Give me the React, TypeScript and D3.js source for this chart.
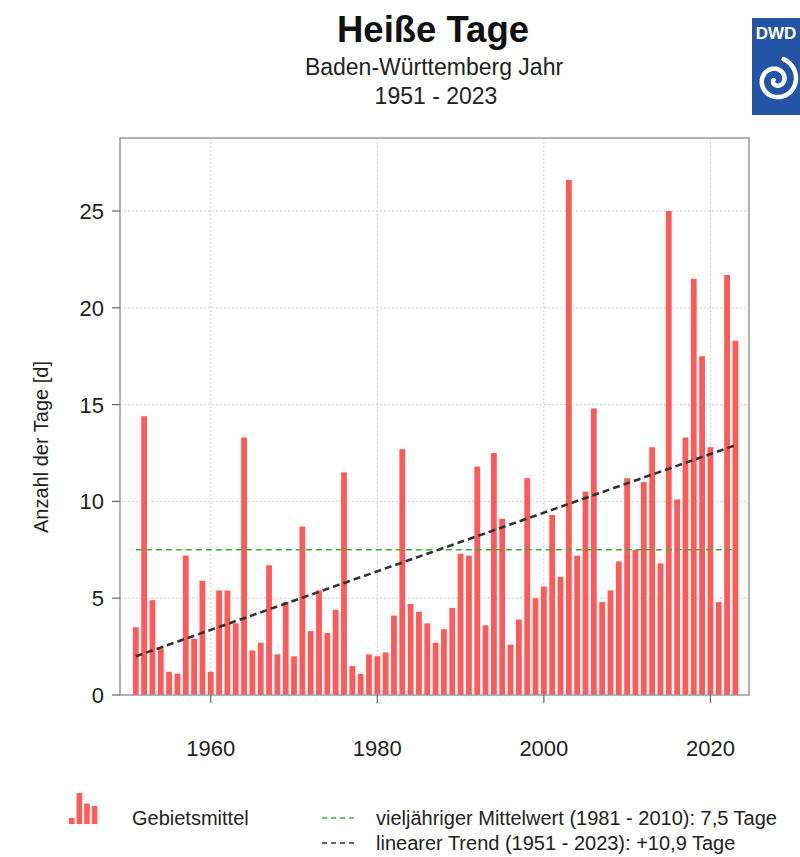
import React from "react";
import * as d3 from "d3";

// ---- data ----
const firstYear = 1951;
const hotDays = [
  3.5, 14.4, 4.9, 2.4, 1.2, 1.1, 7.2, 2.9, 5.9, 1.2,
  5.4, 5.4, 3.7, 13.3, 2.3, 2.7, 6.7, 2.1, 4.8, 2.0,
  8.7, 3.3, 5.4, 3.2, 4.4, 11.5, 1.5, 1.1, 2.1, 2.0,
  2.2, 4.1, 12.7, 4.7, 4.3, 3.7, 2.7, 3.4, 4.5, 7.3,
  7.2, 11.8, 3.6, 12.5, 9.1, 2.6, 3.9, 11.2, 5.0, 5.6,
  9.3, 6.1, 26.6, 7.2, 10.5, 14.8, 4.8, 5.4, 6.9, 11.2,
  7.5, 11.0, 12.8, 6.8, 25.0, 10.1, 13.3, 21.5, 17.5, 12.8,
  4.8, 21.7, 18.3,
];
const years = hotDays.map((_, i) => firstYear + i);
const meanYears = [1951, 2023];
const meanValue = 7.5;
const trendYears = [1951, 2023];
const trendValues = [2.0, 12.9];
const yTicks = [0, 5, 10, 15, 20, 25];
const xTicks = [1960, 1980, 2000, 2020];
const legendIcon = [0.2, 1, 0.66, 0.58];

const FONT = "'Liberation Sans', Arial, Helvetica, sans-serif";

export default function App() {
  const W = 800, H = 857;
  const plot = { left: 120, right: 749, top: 138, bottom: 695 };
  const x = d3.scaleLinear().domain([1951, 2023]).range([135.8, 735.4]);
  const y = d3.scaleLinear().domain([0, 25]).range([695, 211]);
  const bw = 5.8;

  const line = d3
    .line<[number, number]>()
    .x((d) => x(d[0]))
    .y((d) => y(d[1]));

  const trendPts: [number, number][] = trendYears.map((t, i) => [t, trendValues[i]]);
  const meanPts: [number, number][] = meanYears.map((t) => [t, meanValue]);

  // decorative spiral for logo
  const spiral: [number, number][] = d3.range(0, 3.4 * Math.PI, 0.08).map((a) => {
    const r = 2.5 + a * 1.85;
    return [776 + r * Math.cos(-a + Math.PI), 80 + r * Math.sin(-a + Math.PI)];
  });
  const spiralPath = d3.line()(spiral) || "";

  const iconScale = d3.scaleLinear().domain([0, 1]).range([824, 793]);

  return (
    <svg
      width={W}
      height={H}
      style={{ position: "absolute", left: 0, top: 0, background: "#fff" }}
      fontFamily={FONT}
    >
      <rect x={0} y={0} width={W} height={H} fill="#fff" />
      {/* titles */}
      <text x={433} y={42} textAnchor="middle" fontSize={36.5} fontWeight="bold" fill="#111">
        Heiße Tage
      </text>
      <text x={434} y={75} textAnchor="middle" fontSize={23} fill="#222">
        Baden-Württemberg Jahr
      </text>
      <text x={436} y={104} textAnchor="middle" fontSize={23} fill="#222">
        1951 - 2023
      </text>

      {/* DWD logo */}
      <rect x={752} y={18} width={48} height={97} fill="#2454a4" />
      <text x={776} y={39} textAnchor="middle" fontSize={17} fontWeight="bold" fill="#fff">
        DWD
      </text>
      <path d={spiralPath} fill="none" stroke="#fff" strokeWidth={4.5} strokeLinecap="round" />

      {/* grid */}
      {yTicks.filter((t) => t > 0).map((t) => (
        <line key={"gy" + t} x1={plot.left} x2={plot.right} y1={y(t)} y2={y(t)}
          stroke="#d0d0d0" strokeWidth={1} strokeDasharray="2,2" />
      ))}
      {xTicks.map((t) => (
        <line key={"gx" + t} x1={x(t)} x2={x(t)} y1={plot.top} y2={plot.bottom}
          stroke="#d0d0d0" strokeWidth={1} strokeDasharray="2,2" />
      ))}

      {/* bars */}
      {hotDays.map((v, i) => (
        <rect key={years[i]} x={x(years[i]) - bw / 2} y={y(v)} width={bw}
          height={y(0) - y(v)} fill="#ff5a5a" />
      ))}

      {/* mean line */}
      <path d={line(meanPts) || ""} stroke="#3aae3a" strokeWidth={1.6} strokeDasharray="6,4" fill="none" />
      {/* trend line */}
      <path d={line(trendPts) || ""} stroke="#333" strokeWidth={2.6} strokeDasharray="7,4" fill="none" />

      {/* frame */}
      <path d={`M${plot.left},${plot.bottom} V${plot.top} H${plot.right} V${plot.bottom} Z`}
        fill="none" stroke="#9a9a9a" strokeWidth={1.5} />

      {/* y axis */}
      {yTicks.map((t) => (
        <g key={"yt" + t}>
          <line x1={112} x2={plot.left} y1={y(t)} y2={y(t)} stroke="#666" strokeWidth={1.2} />
          <text x={104} y={y(t) + 8} textAnchor="end" fontSize={22} fill="#222">{t}</text>
        </g>
      ))}
      <text transform={`translate(48,447) rotate(-90)`} textAnchor="middle" fontSize={20} fill="#222">
        Anzahl der Tage [d]
      </text>

      {/* x axis */}
      {xTicks.map((t) => (
        <g key={"xt" + t}>
          <line x1={x(t)} x2={x(t)} y1={plot.bottom} y2={plot.bottom + 8} stroke="#666" strokeWidth={1.2} />
          <text x={x(t)} y={756} textAnchor="middle" fontSize={22} fill="#222">{t}</text>
        </g>
      ))}

      {/* legend */}
      {legendIcon.map((h, i) => (
        <rect key={"li" + i} x={69 + i * 7.6} y={iconScale(h)} width={5.6}
          height={824 - iconScale(h)} fill="#ff5a5a" />
      ))}
      <text x={132} y={825} fontSize={20} fill="#222">Gebietsmittel</text>
      <line x1={322} x2={356} y1={818} y2={818} stroke="#3aae3a" strokeWidth={1.5} strokeDasharray="5,4" />
      <text x={376} y={825} fontSize={20} fill="#222">vieljähriger Mittelwert (1981 - 2010): 7,5 Tage</text>
      <line x1={322} x2={356} y1={843} y2={843} stroke="#333" strokeWidth={1.5} strokeDasharray="5,4" />
      <text x={376} y={850} fontSize={20} fill="#222">linearer Trend (1951 - 2023): +10,9 Tage</text>
    </svg>
  );
}
